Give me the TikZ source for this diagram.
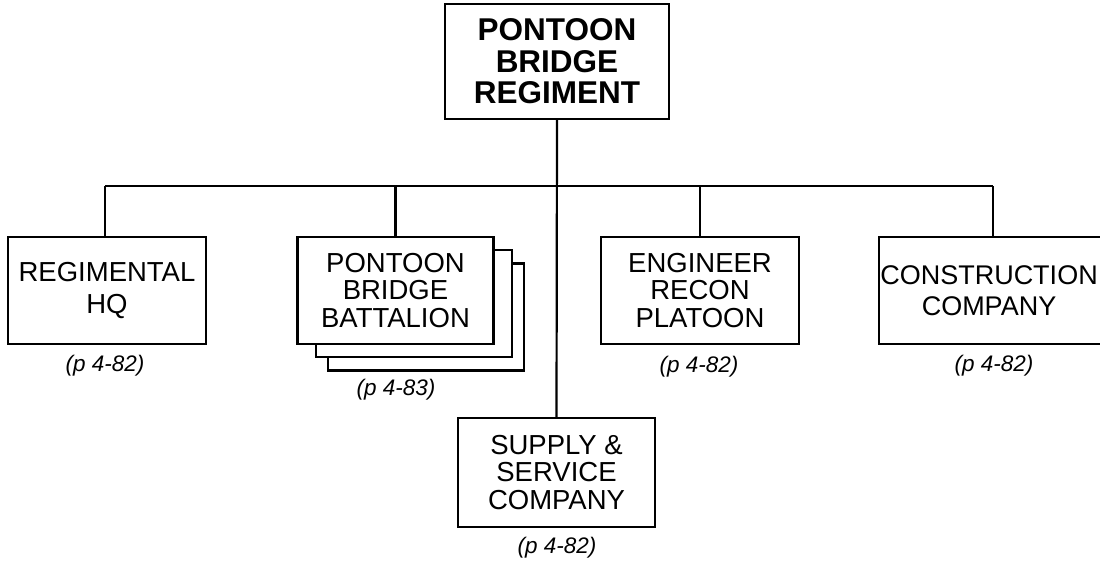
\documentclass[tikz,border=0pt]{standalone}
\usepackage{fontspec}
\setmainfont{Liberation Sans}
\begin{document}
\begin{tikzpicture}[x=1pt,y=-1pt,
  box/.style={draw,line width=2.2pt,fill=white,inner sep=0pt,align=center,
    minimum width=198pt,minimum height=107pt,font=\fontsize{27.5}{27.5}\selectfont},
  plain/.style={inner sep=0pt,align=center,font=\fontsize{27}{27}\selectfont},
  ref/.style={font=\fontsize{22.5}{23}\selectfont\itshape},
  conn/.style={line width=2.2pt}]
\useasboundingbox (0,0) rectangle (1100,562);
\clip (0,0) rectangle (1100,562);
% top
\node[box,minimum width=224pt,minimum height=115pt,
  font=\bfseries\fontsize{31.5}{31.5}\selectfont] (top) at (557,61.5) {PONTOON\\BRIDGE\\REGIMENT};
% second level
\node[box] (hq) at (107,290.5) {REGIMENTAL\\[5pt]HQ};
\node[box,minimum width=196pt] (bn3) at (426,317) {};
\node[box,minimum width=196pt] (bn2) at (414,303.5) {};
\node[box,minimum width=196pt] (bn) at (395.5,290.5) {PONTOON\\BRIDGE\\BATTALION};
\node[box] (eng) at (700,290.5) {ENGINEER\\RECON\\PLATOON};
\node[box,minimum width=228pt] (con) at (993,290.5) {};
\node[plain] (contxt) at ([xshift=-4pt]con.center) {CONSTRUCTION\\[4pt]COMPANY};
\node[box,minimum width=197pt,minimum height=109pt] (sup) at (556.5,472.5) {SUPPLY \&\\SERVICE\\COMPANY};
% references
\node[ref] (hqref) at (105,366) {(p 4-82)};
\node[ref] (bnref) at (396,390) {(p 4-83)};
\node[ref] (engref) at (699,367) {(p 4-82)};
\node[ref] (conref) at (994,366) {(p 4-82)};
\node[ref] (supref) at (557,548) {(p 4-82)};
% connectors
\coordinate (busL) at (105,186);
\coordinate (busR) at (993,186);
\draw[conn] (busL) -- (busR);
\draw[conn] (top.south) -- (sup.north);
\draw[conn] (hq.north -| busL) -- (busL);
\draw[conn] (bn.north) -- (bn.north |- busL);
\draw[conn] (eng.north) -- (eng.north |- busL);
\draw[conn] (con.north) -- (busR);
\end{tikzpicture}
\end{document}
